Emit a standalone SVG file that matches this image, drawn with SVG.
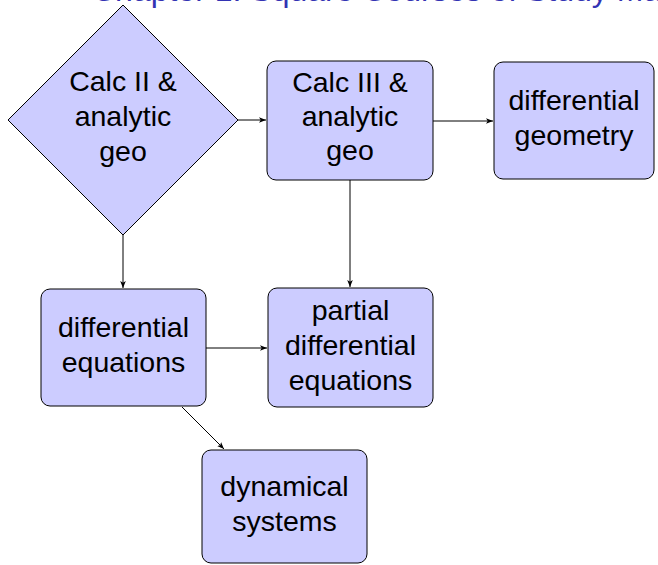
<svg xmlns="http://www.w3.org/2000/svg" width="658" height="565" viewBox="0 0 658 565">
<defs>
<style>
.node{fill:#ccccff;stroke:#000;stroke-width:1}
.lbl{font-family:"Liberation Sans",Arial,Helvetica,sans-serif;font-size:28.5px;fill:#000;text-anchor:middle}
.edge{fill:none;stroke:#000;stroke-width:1;marker-end:url(#arr)}
.title{font-family:"Liberation Sans",Arial,Helvetica,sans-serif;font-size:32px;fill:#3333b3}
</style>
<marker id="arr" viewBox="0 0 10 10" refX="10" refY="5" markerWidth="7" markerHeight="7" markerUnits="userSpaceOnUse" orient="auto">
<path d="M0,1 L10,5 L0,9 L2.5,5 Z" fill="#000"/>
</marker>
</defs>
<rect width="658" height="565" fill="#fff"/>
<text class="title" x="92" y="1">Chapter 1: Square Courses of Study Map</text>
<g id="connectors">
<line class="edge" x1="238" y1="120" x2="266" y2="120"/>
<line class="edge" x1="433" y1="121" x2="493" y2="121"/>
<line class="edge" x1="123" y1="235" x2="123" y2="288"/>
<line class="edge" x1="350" y1="180" x2="350" y2="287"/>
<line class="edge" x1="206" y1="348" x2="267" y2="348"/>
<line class="edge" x1="182" y1="407" x2="224" y2="449"/>
</g>
<g id="calc2">
<polygon class="node" points="123,5 238,120 123,235 8,120"/>
<text class="lbl" x="123" y="91">Calc II &amp;</text>
<text class="lbl" x="123" y="126">analytic</text>
<text class="lbl" x="123" y="161">geo</text>
</g>
<g id="calc3">
<rect class="node" x="267" y="61" width="166" height="119" rx="9"/>
<text class="lbl" x="350" y="92">Calc III &amp;</text>
<text class="lbl" x="350" y="126">analytic</text>
<text class="lbl" x="350" y="160">geo</text>
</g>
<g id="diffgeo">
<rect class="node" x="494" y="62" width="160" height="117" rx="9"/>
<text class="lbl" x="574" y="110">differential</text>
<text class="lbl" x="574" y="145">geometry</text>
</g>
<g id="diffeq">
<rect class="node" x="41" y="289" width="165" height="117" rx="9"/>
<text class="lbl" x="123.5" y="337">differential</text>
<text class="lbl" x="123.5" y="372">equations</text>
</g>
<g id="pde">
<rect class="node" x="268" y="288" width="165" height="119" rx="9"/>
<text class="lbl" x="350.5" y="320">partial</text>
<text class="lbl" x="350.5" y="355">differential</text>
<text class="lbl" x="350.5" y="390">equations</text>
</g>
<g id="dynsys">
<rect class="node" x="202" y="450" width="165" height="113" rx="9"/>
<text class="lbl" x="284.5" y="496">dynamical</text>
<text class="lbl" x="284.5" y="531">systems</text>
</g>
</svg>
